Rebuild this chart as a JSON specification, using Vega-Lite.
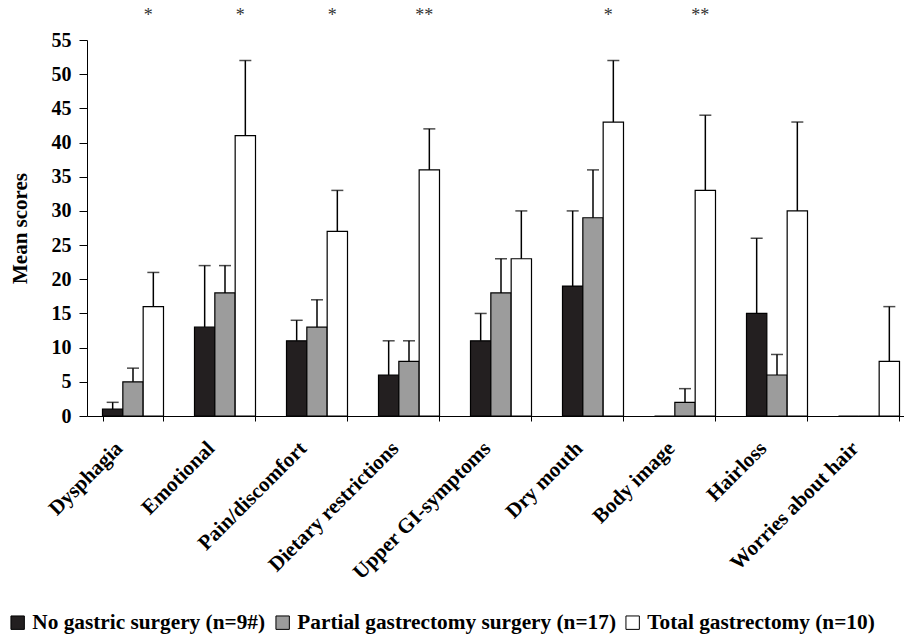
{
  "$schema": "https://vega.github.io/schema/vega-lite/v6.json",
  "autosize": "none",
  "width": 828,
  "height": 376,
  "padding": {"left": 87, "top": 40, "right": 0, "bottom": 225},
  "background": "white",
  "config": {
    "font": "Liberation Serif",
    "view": {"stroke": null},
    "axis": {"labelFont": "Liberation Serif", "titleFont": "Liberation Serif", "labelColor": "black", "titleColor": "black", "domainColor": "black", "tickColor": "black", "grid": false}
  },
  "datasets": {
    "bars": [
      {"category": "Dysphagia", "group": "No gastric surgery (n=9#)", "value": 1, "upper": 2},
      {"category": "Dysphagia", "group": "Partial gastrectomy surgery (n=17)", "value": 5, "upper": 7},
      {"category": "Dysphagia", "group": "Total gastrectomy (n=10)", "value": 16, "upper": 21},
      {"category": "Emotional", "group": "No gastric surgery (n=9#)", "value": 13, "upper": 22},
      {"category": "Emotional", "group": "Partial gastrectomy surgery (n=17)", "value": 18, "upper": 22},
      {"category": "Emotional", "group": "Total gastrectomy (n=10)", "value": 41, "upper": 52},
      {"category": "Pain/discomfort", "group": "No gastric surgery (n=9#)", "value": 11, "upper": 14},
      {"category": "Pain/discomfort", "group": "Partial gastrectomy surgery (n=17)", "value": 13, "upper": 17},
      {"category": "Pain/discomfort", "group": "Total gastrectomy (n=10)", "value": 27, "upper": 33},
      {"category": "Dietary restrictions", "group": "No gastric surgery (n=9#)", "value": 6, "upper": 11},
      {"category": "Dietary restrictions", "group": "Partial gastrectomy surgery (n=17)", "value": 8, "upper": 11},
      {"category": "Dietary restrictions", "group": "Total gastrectomy (n=10)", "value": 36, "upper": 42},
      {"category": "Upper GI-symptoms", "group": "No gastric surgery (n=9#)", "value": 11, "upper": 15},
      {"category": "Upper GI-symptoms", "group": "Partial gastrectomy surgery (n=17)", "value": 18, "upper": 23},
      {"category": "Upper GI-symptoms", "group": "Total gastrectomy (n=10)", "value": 23, "upper": 30},
      {"category": "Dry mouth", "group": "No gastric surgery (n=9#)", "value": 19, "upper": 30},
      {"category": "Dry mouth", "group": "Partial gastrectomy surgery (n=17)", "value": 29, "upper": 36},
      {"category": "Dry mouth", "group": "Total gastrectomy (n=10)", "value": 43, "upper": 52},
      {"category": "Body image", "group": "No gastric surgery (n=9#)", "value": 0, "upper": null},
      {"category": "Body image", "group": "Partial gastrectomy surgery (n=17)", "value": 2, "upper": 4},
      {"category": "Body image", "group": "Total gastrectomy (n=10)", "value": 33, "upper": 44},
      {"category": "Hairloss", "group": "No gastric surgery (n=9#)", "value": 15, "upper": 26},
      {"category": "Hairloss", "group": "Partial gastrectomy surgery (n=17)", "value": 6, "upper": 9},
      {"category": "Hairloss", "group": "Total gastrectomy (n=10)", "value": 30, "upper": 43},
      {"category": "Worries about hair", "group": "No gastric surgery (n=9#)", "value": 0, "upper": null},
      {"category": "Worries about hair", "group": "Partial gastrectomy surgery (n=17)", "value": 0, "upper": null},
      {"category": "Worries about hair", "group": "Total gastrectomy (n=10)", "value": 8, "upper": 16}
    ],
    "caps": [
      {"category": "Dysphagia", "group": "No gastric surgery (n=9#)", "value": 2},
      {"category": "Dysphagia", "group": "Partial gastrectomy surgery (n=17)", "value": 7},
      {"category": "Dysphagia", "group": "Total gastrectomy (n=10)", "value": 21},
      {"category": "Emotional", "group": "No gastric surgery (n=9#)", "value": 22},
      {"category": "Emotional", "group": "Partial gastrectomy surgery (n=17)", "value": 22},
      {"category": "Emotional", "group": "Total gastrectomy (n=10)", "value": 52},
      {"category": "Pain/discomfort", "group": "No gastric surgery (n=9#)", "value": 14},
      {"category": "Pain/discomfort", "group": "Partial gastrectomy surgery (n=17)", "value": 17},
      {"category": "Pain/discomfort", "group": "Total gastrectomy (n=10)", "value": 33},
      {"category": "Dietary restrictions", "group": "No gastric surgery (n=9#)", "value": 11},
      {"category": "Dietary restrictions", "group": "Partial gastrectomy surgery (n=17)", "value": 11},
      {"category": "Dietary restrictions", "group": "Total gastrectomy (n=10)", "value": 42},
      {"category": "Upper GI-symptoms", "group": "No gastric surgery (n=9#)", "value": 15},
      {"category": "Upper GI-symptoms", "group": "Partial gastrectomy surgery (n=17)", "value": 23},
      {"category": "Upper GI-symptoms", "group": "Total gastrectomy (n=10)", "value": 30},
      {"category": "Dry mouth", "group": "No gastric surgery (n=9#)", "value": 30},
      {"category": "Dry mouth", "group": "Partial gastrectomy surgery (n=17)", "value": 36},
      {"category": "Dry mouth", "group": "Total gastrectomy (n=10)", "value": 52},
      {"category": "Body image", "group": "Partial gastrectomy surgery (n=17)", "value": 4},
      {"category": "Body image", "group": "Total gastrectomy (n=10)", "value": 44},
      {"category": "Hairloss", "group": "No gastric surgery (n=9#)", "value": 26},
      {"category": "Hairloss", "group": "Partial gastrectomy surgery (n=17)", "value": 9},
      {"category": "Hairloss", "group": "Total gastrectomy (n=10)", "value": 43},
      {"category": "Worries about hair", "group": "Total gastrectomy (n=10)", "value": 16}
    ],
    "stars": [
      {"category": "Dysphagia", "group": "Total gastrectomy (n=10)", "value": 58.5, "label": "*"},
      {"category": "Emotional", "group": "Total gastrectomy (n=10)", "value": 58.5, "label": "*"},
      {"category": "Pain/discomfort", "group": "Total gastrectomy (n=10)", "value": 58.5, "label": "*"},
      {"category": "Dietary restrictions", "group": "Total gastrectomy (n=10)", "value": 58.5, "label": "**"},
      {"category": "Dry mouth", "group": "Total gastrectomy (n=10)", "value": 58.5, "label": "*"},
      {"category": "Body image", "group": "Total gastrectomy (n=10)", "value": 58.5, "label": "**"}
    ]
  },
  "encoding": {
    "x": {
      "field": "category", "type": "nominal",
      "scale": {"domain": ["Dysphagia", "Emotional", "Pain/discomfort", "Dietary restrictions", "Upper GI-symptoms", "Dry mouth", "Body image", "Hairloss", "Worries about hair"], "paddingInner": 0.337, "paddingOuter": 0.1685},
      "axis": {"title": null, "labelAngle": -45, "labelAlign": "right", "labelBaseline": "middle", "labelFontSize": 21, "labelFontWeight": "bold", "labelPadding": 24, "labelOffset": -14, "tickBand": "extent", "tickSize": 5, "domainWidth": 1, "labelLimit": 300, "labelOverlap": false}
    },
    "xOffset": {"field": "group", "type": "nominal", "scale": {"domain": ["No gastric surgery (n=9#)", "Partial gastrectomy surgery (n=17)", "Total gastrectomy (n=10)"]}},
    "y": {
      "field": "value", "type": "quantitative",
      "scale": {"domain": [0, 55], "nice": false, "zero": true},
      "axis": {"title": "Mean scores", "titleFontSize": 21, "titleFontWeight": "bold", "titlePadding": 21, "values": [0, 5, 10, 15, 20, 25, 30, 35, 40, 45, 50, 55], "labelOverlap": false, "labelFontSize": 20, "labelFontWeight": "bold", "tickSize": 8, "labelPadding": 8}
    }
  },
  "layer": [
    {
      "data": {"name": "bars"},
      "mark": {"type": "bar", "stroke": "black", "strokeWidth": 1.2},
      "encoding": {
        "fill": {
          "field": "group", "type": "nominal",
          "scale": {"domain": ["No gastric surgery (n=9#)", "Partial gastrectomy surgery (n=17)", "Total gastrectomy (n=10)"], "range": ["#231f20", "#9c9c9c", "#ffffff"]},
          "legend": {
            "title": null, "orient": "none", "direction": "horizontal", "legendX": -80, "legendY": 572,
            "symbolType": "square", "symbolSize": 180, "symbolStrokeColor": "black", "symbolStrokeWidth": 1,
            "labelFont": "Liberation Serif", "labelFontSize": 21.3, "labelFontWeight": "bold", "labelColor": "black",
            "labelLimit": 450, "labelOffset": 4, "columnPadding": 6
          }
        }
      }
    },
    {
      "data": {"name": "bars"},
      "transform": [{"filter": "datum.upper != null"}],
      "mark": {"type": "rule", "color": "black", "strokeWidth": 1.5},
      "encoding": {
        "y2": {"field": "upper"}
      }
    },
    {
      "data": {"name": "caps"},
      "mark": {"type": "tick", "orient": "horizontal", "color": "black", "thickness": 1.5, "size": 12},
      "encoding": {}
    },
    {
      "data": {"name": "stars"},
      "mark": {"type": "text", "font": "Liberation Serif", "fontSize": 18, "color": "#333333", "dx": -5, "baseline": "middle"},
      "encoding": {
        "text": {"field": "label"}
      }
    }
  ]
}
